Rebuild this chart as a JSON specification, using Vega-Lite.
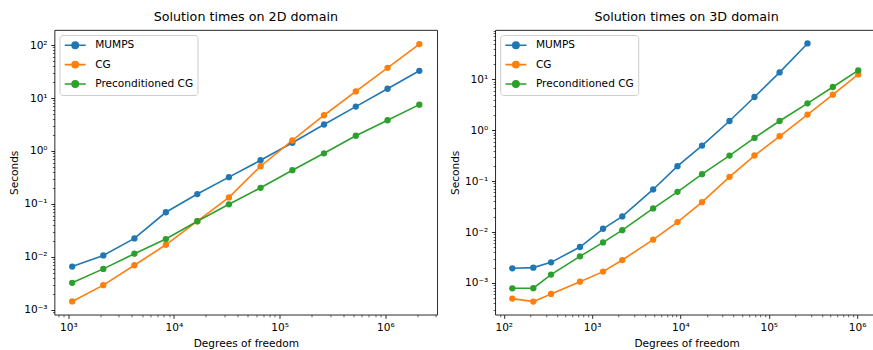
{
  "$schema": "https://vega.github.io/schema/vega-lite/v6.json",
  "padding": {"left": 8.5, "top": 10, "right": 0, "bottom": 0},
  "background": "white",
  "datasets": {
    "d2": [
      {"method": "MUMPS", "dof": 1089, "time": 0.0066},
      {"method": "MUMPS", "dof": 2145, "time": 0.0107},
      {"method": "MUMPS", "dof": 4225, "time": 0.0224},
      {"method": "MUMPS", "dof": 8385, "time": 0.0698},
      {"method": "MUMPS", "dof": 16641, "time": 0.154},
      {"method": "MUMPS", "dof": 33153, "time": 0.321},
      {"method": "MUMPS", "dof": 66049, "time": 0.668},
      {"method": "MUMPS", "dof": 132097, "time": 1.43},
      {"method": "MUMPS", "dof": 263169, "time": 3.16},
      {"method": "MUMPS", "dof": 526337, "time": 6.88},
      {"method": "MUMPS", "dof": 1050625, "time": 14.96},
      {"method": "MUMPS", "dof": 2100225, "time": 32.6},
      {"method": "CG", "dof": 1089, "time": 0.00145},
      {"method": "CG", "dof": 2145, "time": 0.00294},
      {"method": "CG", "dof": 4225, "time": 0.00698},
      {"method": "CG", "dof": 8385, "time": 0.017},
      {"method": "CG", "dof": 16641, "time": 0.0473},
      {"method": "CG", "dof": 33153, "time": 0.133},
      {"method": "CG", "dof": 66049, "time": 0.516},
      {"method": "CG", "dof": 132097, "time": 1.58},
      {"method": "CG", "dof": 263169, "time": 4.73},
      {"method": "CG", "dof": 526337, "time": 13.3},
      {"method": "CG", "dof": 1050625, "time": 37.1},
      {"method": "CG", "dof": 2100225, "time": 104},
      {"method": "Preconditioned CG", "dof": 1089, "time": 0.00325},
      {"method": "Preconditioned CG", "dof": 2145, "time": 0.00596},
      {"method": "Preconditioned CG", "dof": 4225, "time": 0.01155},
      {"method": "Preconditioned CG", "dof": 8385, "time": 0.0218},
      {"method": "Preconditioned CG", "dof": 16641, "time": 0.0473},
      {"method": "Preconditioned CG", "dof": 33153, "time": 0.0986},
      {"method": "Preconditioned CG", "dof": 66049, "time": 0.202},
      {"method": "Preconditioned CG", "dof": 132097, "time": 0.434},
      {"method": "Preconditioned CG", "dof": 263169, "time": 0.904},
      {"method": "Preconditioned CG", "dof": 526337, "time": 1.94},
      {"method": "Preconditioned CG", "dof": 1050625, "time": 3.81},
      {"method": "Preconditioned CG", "dof": 2100225, "time": 7.5}
    ],
    "d3": [
      {"method": "MUMPS", "dof": 125, "time": 0.00194},
      {"method": "MUMPS", "dof": 216, "time": 0.0020},
      {"method": "MUMPS", "dof": 343, "time": 0.00254},
      {"method": "MUMPS", "dof": 729, "time": 0.00508},
      {"method": "MUMPS", "dof": 1331, "time": 0.0116},
      {"method": "MUMPS", "dof": 2197, "time": 0.0203},
      {"method": "MUMPS", "dof": 4913, "time": 0.0687},
      {"method": "MUMPS", "dof": 9261, "time": 0.197},
      {"method": "MUMPS", "dof": 17576, "time": 0.5},
      {"method": "MUMPS", "dof": 35937, "time": 1.52},
      {"method": "MUMPS", "dof": 68921, "time": 4.5},
      {"method": "MUMPS", "dof": 132651, "time": 13.7},
      {"method": "MUMPS", "dof": 274625, "time": 50.8},
      {"method": "CG", "dof": 125, "time": 0.000493},
      {"method": "CG", "dof": 216, "time": 0.00043},
      {"method": "CG", "dof": 343, "time": 0.000608},
      {"method": "CG", "dof": 729, "time": 0.00106},
      {"method": "CG", "dof": 1331, "time": 0.00167},
      {"method": "CG", "dof": 2197, "time": 0.00282},
      {"method": "CG", "dof": 4913, "time": 0.00708},
      {"method": "CG", "dof": 9261, "time": 0.0157},
      {"method": "CG", "dof": 17576, "time": 0.0387},
      {"method": "CG", "dof": 35937, "time": 0.1216},
      {"method": "CG", "dof": 68921, "time": 0.319},
      {"method": "CG", "dof": 132651, "time": 0.762},
      {"method": "CG", "dof": 274625, "time": 2.03},
      {"method": "CG", "dof": 531441, "time": 5.0},
      {"method": "CG", "dof": 1030301, "time": 12.5},
      {"method": "Preconditioned CG", "dof": 125, "time": 0.000785},
      {"method": "Preconditioned CG", "dof": 216, "time": 0.00079},
      {"method": "Preconditioned CG", "dof": 343, "time": 0.00146},
      {"method": "Preconditioned CG", "dof": 729, "time": 0.00333},
      {"method": "Preconditioned CG", "dof": 1331, "time": 0.00627},
      {"method": "Preconditioned CG", "dof": 2197, "time": 0.0109},
      {"method": "Preconditioned CG", "dof": 4913, "time": 0.0291},
      {"method": "Preconditioned CG", "dof": 9261, "time": 0.0618},
      {"method": "Preconditioned CG", "dof": 17576, "time": 0.137},
      {"method": "Preconditioned CG", "dof": 35937, "time": 0.318},
      {"method": "Preconditioned CG", "dof": 68921, "time": 0.708},
      {"method": "Preconditioned CG", "dof": 132651, "time": 1.52},
      {"method": "Preconditioned CG", "dof": 274625, "time": 3.38},
      {"method": "Preconditioned CG", "dof": 531441, "time": 7.08},
      {"method": "Preconditioned CG", "dof": 1030301, "time": 15.0}
    ]
  },
  "spacing": 57.7,
  "bounds": "flush",
  "resolve": {"scale": {"color": "independent"}, "legend": {"color": "independent"}},
  "hconcat": [
    {
      "title": {"text": "Solution times on 2D domain"},
      "width": 382.7,
      "height": 284.7,
      "data": {"name": "d2"},
      "encoding": {
        "x": {"field": "dof", "type": "quantitative", "title": "Degrees of freedom",
          "scale": {"type": "log", "domain": [741, 3100000], "nice": false},
          "axis": {"values": [1000, 10000, 100000, 1000000]}},
        "y": {"field": "time", "type": "quantitative", "title": "Seconds",
          "scale": {"type": "log", "domain": [0.000815, 192], "nice": false},
          "axis": {"values": [0.001, 0.01, 0.1, 1, 10, 100]}},
        "color": {"field": "method", "type": "nominal",
          "scale": {"domain": ["MUMPS", "CG", "Preconditioned CG"], "range": ["#1f77b4", "#ff7f0e", "#2ca02c"]},
          "legend": {"title": null}}
      },
      "layer": [
        {"mark": {"type": "line", "strokeWidth": 1.6}},
        {"mark": {"type": "point", "filled": true, "size": 40, "opacity": 1},
          "encoding": {
            "x": {"field": "dof", "type": "quantitative",
              "scale": {"type": "log", "domain": [741, 3100000], "nice": false},
              "axis": {"values": [800, 900, 2000, 3000, 4000, 5000, 6000, 7000, 8000, 9000, 20000, 30000, 40000, 50000, 60000, 70000, 80000, 90000, 200000, 300000, 400000, 500000, 600000, 700000, 800000, 900000, 2000000, 3000000],
                "labels": false, "title": null, "tickSize": 2.1, "tickWidth": 0.63, "orient": "bottom"}},
            "y": {"field": "time", "type": "quantitative",
              "scale": {"type": "log", "domain": [0.000815, 192], "nice": false},
              "axis": {"values": [0.0009, 0.002, 0.003, 0.004, 0.005, 0.006, 0.007, 0.008, 0.009, 0.02, 0.03, 0.04, 0.05, 0.06, 0.07, 0.08, 0.09, 0.2, 0.3, 0.4, 0.5, 0.6, 0.7, 0.8, 0.9, 2, 3, 4, 5, 6, 7, 8, 9, 20, 30, 40, 50, 60, 70, 80, 90],
                "labels": false, "title": null, "tickSize": 2.1, "tickWidth": 0.63, "orient": "left"}}
          }}
      ],
      "resolve": {"axis": {"x": "independent", "y": "independent"}}
    },
    {
      "title": {"text": "Solution times on 3D domain"},
      "width": 382.7,
      "height": 284.7,
      "data": {"name": "d3"},
      "encoding": {
        "x": {"field": "dof", "type": "quantitative", "title": "Degrees of freedom",
          "scale": {"type": "log", "domain": [80, 1720000], "nice": false},
          "axis": {"values": [100, 1000, 10000, 100000, 1000000]}},
        "y": {"field": "time", "type": "quantitative", "title": "Seconds",
          "scale": {"type": "log", "domain": [0.000238, 93.3], "nice": false},
          "axis": {"values": [0.001, 0.01, 0.1, 1, 10]}},
        "color": {"field": "method", "type": "nominal",
          "scale": {"domain": ["MUMPS", "CG", "Preconditioned CG"], "range": ["#1f77b4", "#ff7f0e", "#2ca02c"]},
          "legend": {"title": null}}
      },
      "layer": [
        {"mark": {"type": "line", "strokeWidth": 1.6}},
        {"mark": {"type": "point", "filled": true, "size": 40, "opacity": 1},
          "encoding": {
            "x": {"field": "dof", "type": "quantitative",
              "scale": {"type": "log", "domain": [80, 1720000], "nice": false},
              "axis": {"values": [90, 200, 300, 400, 500, 600, 700, 800, 900, 2000, 3000, 4000, 5000, 6000, 7000, 8000, 9000, 20000, 30000, 40000, 50000, 60000, 70000, 80000, 90000, 200000, 300000, 400000, 500000, 600000, 700000, 800000, 900000],
                "labels": false, "title": null, "tickSize": 2.1, "tickWidth": 0.63, "orient": "bottom"}},
            "y": {"field": "time", "type": "quantitative",
              "scale": {"type": "log", "domain": [0.000238, 93.3], "nice": false},
              "axis": {"values": [0.0003, 0.0004, 0.0005, 0.0006, 0.0007, 0.0008, 0.0009, 0.002, 0.003, 0.004, 0.005, 0.006, 0.007, 0.008, 0.009, 0.02, 0.03, 0.04, 0.05, 0.06, 0.07, 0.08, 0.09, 0.2, 0.3, 0.4, 0.5, 0.6, 0.7, 0.8, 0.9, 2, 3, 4, 5, 6, 7, 8, 9, 20, 30, 40, 50, 60, 70, 80, 90],
                "labels": false, "title": null, "tickSize": 2.1, "tickWidth": 0.63, "orient": "left"}}
          }}
      ],
      "resolve": {"axis": {"x": "independent", "y": "independent"}}
    }
  ],
  "config": {
    "font": "DejaVu Sans",
    "view": {"stroke": "#000", "strokeWidth": 0.84},
    "title": {"font": "DejaVu Sans", "fontSize": 12.7, "fontWeight": "normal", "color": "#000", "frame": "group", "anchor": "middle", "baseline": "alphabetic", "offset": 6.6},
    "axis": {
      "grid": false, "domain": false,
      "labelFont": "DejaVu Sans", "labelFontSize": 10.6, "labelColor": "#000",
      "labelOverlap": false, "labelFlush": false,
      "tickColor": "#000", "tickSize": 3.7, "tickWidth": 0.84, "labelPadding": 3.7,
      "titleFont": "DejaVu Sans", "titleFontSize": 10.6, "titleFontWeight": "normal", "titleColor": "#000",
      "labelExpr": "'10' + ['⁻⁴','⁻³','⁻²','⁻¹','⁰','¹','²','³','⁴','⁵','⁶','⁷'][round(log(datum.value)/LN10)+4]"
    },
    "axisX": {"titlePadding": 6},
    "axisY": {"titlePadding": 4.2},
    "legend": {
      "orient": "top-left", "offset": 5.3, "padding": 4.2,
      "strokeColor": "#cccccc", "fillColor": "rgba(255,255,255,0.8)", "cornerRadius": 3,
      "labelFont": "DejaVu Sans", "labelFontSize": 10.6, "labelColor": "#000", "labelOffset": 19.5,
      "symbolType": "M-1,0L3.2,0M0.466,0A0.634,0.634,0,1,1,1.734,0A0.634,0.634,0,1,1,0.466,0Z",
      "symbolSize": 100, "symbolStrokeWidth": 1.6, "rowPadding": 5.4
    }
  }
}
